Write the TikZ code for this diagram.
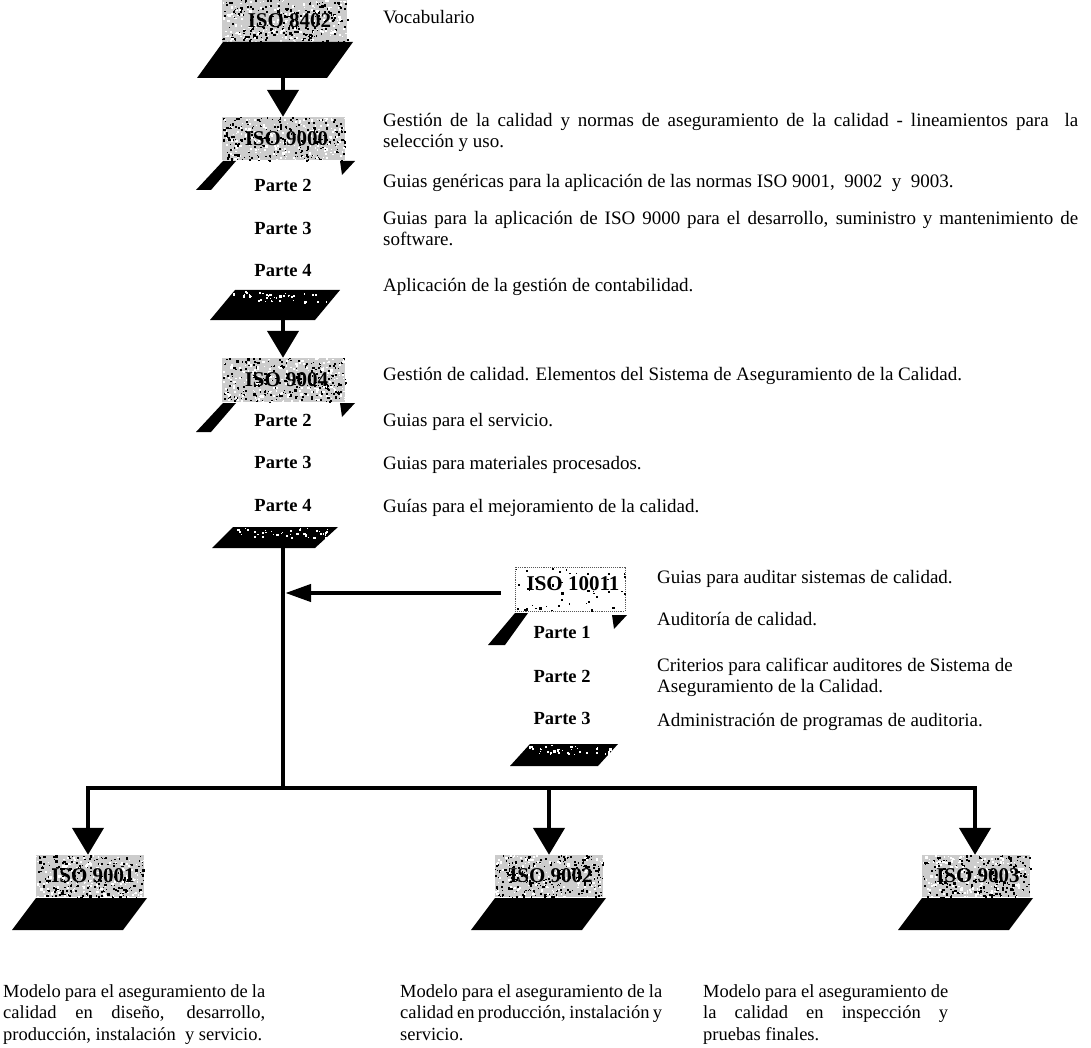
\documentclass[tikz,border=0pt]{standalone}
\usepackage{fontspec}
\setmainfont{Liberation Serif}
\usetikzlibrary{arrows.meta,fit}

% random speckle inside a rectangle: x1 y1 x2 y2 count colour
\newcommand\grainfill[6]{%
  \foreach \k in {1,...,#5}{%
    \pgfmathsetmacro\grx{#1+rnd*(#3-#1)}%
    \pgfmathsetmacro\gry{#2+rnd*(#4-#2)}%
    \pgfmathsetmacro\grs{0.8+1.7*rnd}%
    \fill[#6] (\grx,\gry) rectangle ++(\grs,\grs);%
  }%
}
% grainy grey plate with an empty named node over it: name x1 y1 x2 y2 black white
\newcommand\isoplate[7]{%
  \fill[gray!40] (#2,#3) rectangle (#4,#5);
  \grainfill{#2}{#3}{#4}{#5}{#6}{black}
  \grainfill{#2}{#3}{#4}{#5}{#7}{white}
  \path (#2,#3) coordinate (#1-nw) (#4,#5) coordinate (#1-se);
  \node[fit=(#1-nw)(#1-se), inner sep=0pt] (#1) {};
}

\begin{document}
\begin{tikzpicture}[x=1pt,y=-1pt,
  conn/.style={line width=4.5pt},
  bigtip/.style={-{Triangle[width=31pt,length=27pt]}},
  sidetip/.style={-{Triangle[width=17pt,length=26pt]}},
  isolabel/.style={font=\fontsize{21}{24}\selectfont\bfseries, inner sep=0pt},
  parte/.style={font=\fontsize{18.5}{21}\selectfont\bfseries, inner sep=0pt},
  desc/.style={font=\fontsize{19}{21}\selectfont, inner sep=0pt, anchor=base west},
  foot/.style={font=\fontsize{18.5}{21}\selectfont, inner sep=0pt, anchor=base west},
]
\pgfmathsetseed{4711}
\useasboundingbox[fill=white] (0,0) rectangle (1091,1048);

% ---------- ISO 8402 ----------
\isoplate{n8402}{222}{0}{347}{42}{240}{190}
\node[isolabel] (n8402-t) at ([xshift=5pt]n8402) {ISO 8402};
\fill (223,42) -- (353,42) -- (327,78) -- (197,78) -- cycle;
\coordinate (b8402) at (283,78);
\node[desc] (t8402) at (383,24) {Vocabulario};

% ---------- ISO 9000 ----------
\isoplate{n9000}{222}{117}{345}{160}{250}{190}
\node[isolabel] (n9000-t) at ([xshift=3pt]n9000) {ISO 9000};
\fill (223,161) -- (236,161) -- (211,190) -- (196,190) -- cycle;
\fill (340,161) -- (355,161) -- (342,175) -- cycle;
\node[parte] (p9000b) at (283,185) {Parte 2};
\node[parte] (p9000c) at (283,228) {Parte 3};
\node[parte] (p9000d) at (283,271) {Parte 4};
\fill (235,290) -- (340,290) -- (315,320) -- (210,320) -- cycle;
\grainfill{233}{291}{330}{302}{40}{white}
\coordinate (b9000) at (283,320);

\node[desc] (t9000a) at (383,127) {\makebox[695pt][s]{Gestión de la calidad y normas de aseguramiento de la calidad - lineamientos para\ \ la}};
\node[desc] (t9000b) at (383,148) {selección y uso.};
\node[desc] (t9000c) at (383,188) {Guias genéricas para la aplicación de las normas ISO 9001,\ \ 9002\ \ y\ \ 9003.};
\node[desc] (t9000d) at (383,225) {\makebox[695pt][s]{Guias para la aplicación de ISO 9000 para el desarrollo, suministro y mantenimiento de}};
\node[desc] (t9000e) at (383,246) {software.};
\node[desc] (t9000f) at (383,291) {Aplicación de la gestión de contabilidad.};

% ---------- ISO 9004 ----------
\isoplate{n9004}{222}{358}{345}{402}{250}{190}
\node[isolabel] (n9004-t) at ([xshift=3pt]n9004) {ISO 9004};
\fill (223,403) -- (236,403) -- (211,432) -- (196,432) -- cycle;
\fill (340,403) -- (355,403) -- (342,417) -- cycle;
\node[parte] (p9004b) at (283,420) {Parte 2};
\node[parte] (p9004c) at (283,462) {Parte 3};
\node[parte] (p9004d) at (283,505) {Parte 4};
\fill (233,527) -- (338,527) -- (315,548) -- (212,548) -- cycle;
\grainfill{232}{528}{330}{537}{40}{white}
\coordinate (b9004) at (283,548);

\node[desc] (t9004a) at (383,380) {Gestión de calidad. Elementos del Sistema de Aseguramiento de la Calidad.};
\node[desc] (t9004b) at (383,426) {Guias para el servicio.};
\node[desc] (t9004c) at (383,469) {Guias para materiales procesados.};
\node[desc] (t9004d) at (383,512) {Guías para el mejoramiento de la calidad.};

% ---------- ISO 10011 ----------
\path (515,567) coordinate (n10011-nw) (625,611) coordinate (n10011-se);
\node[fit=(n10011-nw)(n10011-se), inner sep=0pt, draw=black!65, densely dotted, line width=0.9pt] (n10011) {};
\grainfill{515}{567}{625}{611}{45}{black}
\node[isolabel] (n10011-t) at ([xshift=3pt,yshift=5pt]n10011) {ISO 10011};
\fill (515,613) -- (528,613) -- (505,645) -- (488,645) -- cycle;
\fill (612,615) -- (627,615) -- (614,629) -- cycle;
\node[parte] (p10011a) at (562,632) {Parte 1};
\node[parte] (p10011b) at (562,676) {Parte 2};
\node[parte] (p10011c) at (562,718) {Parte 3};
\fill (530,744) -- (618,744) -- (598,766) -- (510,766) -- cycle;
\grainfill{528}{745}{610}{754}{35}{white}

\node[desc] (t10011a) at (657,583) {Guias para auditar sistemas de calidad.};
\node[desc] (t10011b) at (657,625) {Auditoría de calidad.};
\node[desc] (t10011c) at (657,671) {Criterios para calificar auditores de Sistema de};
\node[desc] (t10011d) at (657,692) {Aseguramiento de la Calidad.};
\node[desc] (t10011e) at (657,726) {Administración de programas de auditoria.};

% ---------- ISO 9001 / 9002 / 9003 ----------
\isoplate{n9001}{36}{855}{144}{897}{220}{170}
\node[isolabel] (n9001-t) at ([xshift=3pt]n9001) {ISO 9001};
\fill (36,898) -- (147,898) -- (123,930) -- (12,930) -- cycle;

\isoplate{n9002}{495}{855}{603}{897}{250}{150}
\node[isolabel] (n9002-t) at ([xshift=2pt]n9002) {ISO 9002};
\fill (495,898) -- (606,898) -- (582,930) -- (471,930) -- cycle;

\isoplate{n9003}{922}{855}{1030}{897}{220}{170}
\node[isolabel] (n9003-t) at ([xshift=2pt]n9003) {ISO 9003};
\fill (922,898) -- (1033,898) -- (1009,930) -- (898,930) -- cycle;

\node[foot] (t9001a) at (3,997) {\makebox[262pt][s]{Modelo para el aseguramiento de la}};
\node[foot] (t9001b) at (3,1018) {\makebox[262pt][s]{calidad en diseño, desarrollo,}};
\node[foot] (t9001c) at (3,1040) {producción, instalación\ \ y servicio.};

\node[foot] (t9002a) at (400,997) {\makebox[262pt][s]{Modelo para el aseguramiento de la}};
\node[foot] (t9002b) at (400,1018) {\makebox[262pt][s]{calidad en producción, instalación y}};
\node[foot] (t9002c) at (400,1040) {servicio.};

\node[foot] (t9003a) at (703,997) {\makebox[245pt][s]{Modelo para el aseguramiento de}};
\node[foot] (t9003b) at (703,1018) {\makebox[245pt][s]{la calidad en inspección y}};
\node[foot] (t9003c) at (703,1040) {pruebas finales.};

% ---------- connectors ----------
\coordinate (bus) at (283,788);
\coordinate (bl) at (88,788);
\coordinate (bm) at (549,788);
\coordinate (br) at (975,788);

\draw[conn,bigtip] (b8402) -- (b8402 |- n9000.north);
\draw[conn,bigtip] (b9000) -- (b9000 |- n9004.north);
\draw[conn] (b9004) -- (bus);
\draw[conn,sidetip] ([xshift=-14pt,yshift=-4pt]n10011.west) -- ([xshift=2.2pt,yshift=-4pt]n10011.west -| b9004);
\draw[conn,bigtip] (bus) -- (bl) -- (bl |- n9001.north);
\draw[conn,bigtip] (bus) -- (br) -- (br |- n9003.north);
\draw[conn,bigtip] (bm) -- (bm |- n9002.north);
\end{tikzpicture}
\end{document}
